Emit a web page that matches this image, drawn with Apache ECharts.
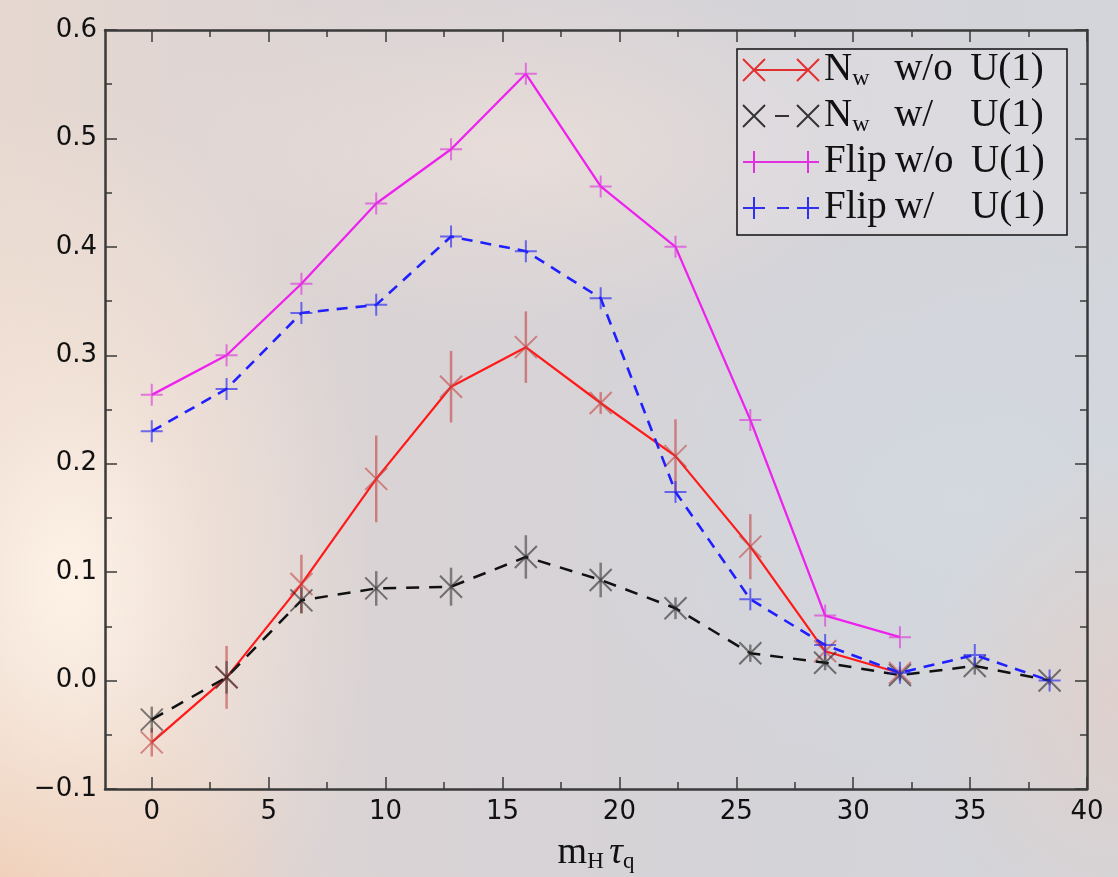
<!DOCTYPE html>
<html>
<head>
<meta charset="utf-8">
<script src="https://cdn.jsdelivr.net/npm/echarts@6/dist/echarts.min.js"></script>
<style>
  html, body { margin: 0; padding: 0; width: 1118px; height: 877px; overflow: hidden; }
  body {
    background:
      radial-gradient(ellipse 300px 480px at 70px 580px, rgba(255,243,232,0.95) 0%, rgba(250,232,218,0.55) 45%, rgba(250,232,218,0) 100%),
      radial-gradient(ellipse 320px 220px at 0px 877px, rgba(236,196,168,0.9) 0%, rgba(236,196,168,0) 100%),
      radial-gradient(ellipse 380px 180px at 520px 150px, rgba(245,228,218,0.55) 0%, rgba(245,228,218,0) 100%),
      radial-gradient(ellipse 200px 260px at 1118px 700px, rgba(230,205,195,0.6) 0%, rgba(230,205,195,0) 100%),
      radial-gradient(ellipse 400px 300px at 950px 500px, rgba(210,218,225,0.7) 0%, rgba(210,218,225,0) 100%),
      linear-gradient(to right, #e6d8d0 0%, #d9d3d5 35%, #d4d3d8 70%, #d3d5da 100%);
  }
  #chart { width: 1118px; height: 877px; }
</style>
</head>
<body>
<div id="chart"></div>
<script>
// ---- data ----
const xVals = [0, 3.2, 6.4, 9.6, 12.8, 16, 19.2, 22.4, 25.6, 28.8, 32, 35.2, 38.4];
const nwNoU1    = [-0.057, 0.003, 0.089, 0.186, 0.271, 0.3075, 0.256, 0.207, 0.1235, 0.027, 0.007];
const nwNoU1Err = [0.013, 0.029, 0.027, 0.040, 0.033, 0.033, 0.010, 0.034, 0.030, 0.008, 0.006];
const nwU1      = [-0.036, 0.003, 0.074, 0.085, 0.0866, 0.114, 0.0928, 0.0667, 0.0252, 0.0165, 0.005, 0.0135, 0.0];
const nwU1Err   = [0.012, 0.015, 0.012, 0.016, 0.0175, 0.020, 0.016, 0.010, 0.008, 0.007, 0.005, 0.008, 0.004];
const flipNoU1  = [0.2635, 0.300, 0.366, 0.440, 0.490, 0.5596, 0.4557, 0.400, 0.2404, 0.0599, 0.040];
const flipU1    = [0.230, 0.269, 0.339, 0.3465, 0.4095, 0.396, 0.3527, 0.174, 0.075, 0.0328, 0.0073, 0.0236, 0.0];
const xMajorTicks = [0, 5, 10, 15, 20, 25, 30, 35, 40];
const xMinorTicks = [2.5, 7.5, 12.5, 17.5, 22.5, 27.5, 32.5, 37.5];
const seriesNames = ['Nw w/o U(1)', 'Nw w/ U(1)', 'Flip w/o U(1)', 'Flip w/ U(1)'];

// ---- helpers ----
const pts = (arr) => arr.map((v, i) => [xVals[i], v]);
const errPts = (arr, err) => arr.map((v, i) => [xVals[i], v, err[i]]);
const X_SYM = 'path://M0,0L20,20M0,20L20,0';
const P_SYM = 'path://M0,10L20,10M10,0L10,20';

function errorSeries(arr, err, color, z) {
  return {
    type: 'custom', xAxisIndex: 0, yAxisIndex: 0, z: z, silent: true,
    data: errPts(arr, err),
    renderItem: function (params, api) {
      const x = api.value(0), y = api.value(1), e = api.value(2);
      const a = api.coord([x, y - e]);
      const b = api.coord([x, y + e]);
      return { type: 'line', shape: { x1: a[0], y1: a[1], x2: b[0], y2: b[1] },
               style: { stroke: color, lineWidth: 2.5 } };
    }
  };
}

function lineSeries(name, arr, lineColor, dash, width, sym, symColor, z) {
  return {
    name: name, type: 'line', xAxisIndex: 0, yAxisIndex: 0, z: z,
    data: pts(arr),
    symbol: sym, symbolSize: 22, showSymbol: true,
    lineStyle: { color: lineColor, width: width, type: dash || 'solid' },
    itemStyle: { color: 'rgba(0,0,0,0)', borderColor: symColor, borderWidth: 2 },
    emphasis: { disabled: true },
    animation: false
  };
}

const serif = 'Liberation Serif, DejaVu Serif, serif';
const sans = 'DejaVu Sans, sans-serif';
const axisLineStyle = { color: '#3a3a3a', width: 2.5 };

function xAxisDef(position, values, len, showLine, showLabel, extra) {
  return Object.assign({
    type: 'value', position: position, min: -2, max: 40,
    axisLine: { show: showLine, onZero: false, lineStyle: axisLineStyle },
    axisTick: { show: true, inside: true, length: len, customValues: values,
                lineStyle: { color: '#3a3a3a', width: 1.5 } },
    axisLabel: { show: showLabel, customValues: values, fontFamily: sans, fontSize: 26,
                 color: '#111', margin: 10 },
    splitLine: { show: false }
  }, extra || {});
}

function yAxisDef(position, showLabel) {
  return {
    type: 'value', position: position, min: -0.1, max: 0.6, interval: 0.1,
    axisLine: { show: true, onZero: false, lineStyle: axisLineStyle },
    axisTick: { show: true, inside: true, length: 12, lineStyle: { color: '#3a3a3a', width: 1.5 } },
    minorTick: { show: true, splitNumber: 2, length: 7, lineStyle: { color: '#3a3a3a', width: 1.5 } },
    axisLabel: { show: showLabel, fontFamily: sans, fontSize: 26, color: '#111', margin: 8,
                 formatter: (v) => (v < -1e-9 ? '\u2212' : '') + Math.abs(v).toFixed(1) },
    splitLine: { show: false }
  };
}

const legendIcons = {
  'Nw w/o U(1)':  'path://M0,0L22,22M0,22L22,0M11,11L65,11M54,0L76,22M54,22L76,0',
  'Nw w/ U(1)':   'path://M0,0L22,22M0,22L22,0M32,11L46,11M54,0L76,22M54,22L76,0',
  'Flip w/o U(1)':'path://M0,11L76,11M11,0L11,22M65,0L65,22',
  'Flip w/ U(1)': 'path://M0,11L22,11M11,0L11,22M34,11L46,11M54,11L76,11M65,0L65,22'
};
const legendColors = {
  'Nw w/o U(1)': '#e23030', 'Nw w/ U(1)': '#333333',
  'Flip w/o U(1)': '#e030e0', 'Flip w/ U(1)': '#3030f0'
};
const legendText = {
  'Nw w/o U(1)':  '{n|N}{s|w}{m|w/o}{u|U(1)}',
  'Nw w/ U(1)':   '{n|N}{s|w}{m|w/}{u|U(1)}',
  'Flip w/o U(1)':'{p|Flip}{m|w/o}{u|U(1)}',
  'Flip w/ U(1)': '{p|Flip}{m|w/}{u|U(1)}'
};

const chart = echarts.init(document.getElementById('chart'), null, { renderer: 'canvas' });
chart.setOption({
  backgroundColor: 'transparent',
  animation: false,
  grid: { left: 105, right: 31, top: 30, bottom: 88, containLabel: false, outerBoundsMode: 'none' },
  xAxis: [
    xAxisDef('bottom', xMajorTicks, 12, true, true, {
      name: '{m|m}{h|H}{sp| }{t|\u03c4}{h|q}', nameLocation: 'middle', nameGap: 44,
      nameTextStyle: { color: '#111', fontFamily: serif, fontSize: 38, lineHeight: 40,
        rich: {
          m: { fontFamily: serif, fontSize: 38, color: '#111', lineHeight: 40 },
          h: { fontFamily: serif, fontSize: 23, color: '#111', lineHeight: 14, verticalAlign: 'bottom' },
          sp: { fontFamily: serif, fontSize: 22, lineHeight: 40 },
          t: { fontFamily: serif, fontStyle: 'italic', fontSize: 38, color: '#111', lineHeight: 40 }
        } }
    }),
    xAxisDef('bottom', xMinorTicks, 7, false, false),
    xAxisDef('top', xMajorTicks, 12, true, false),
    xAxisDef('top', xMinorTicks, 7, false, false)
  ],
  yAxis: [ yAxisDef('left', true), yAxisDef('right', false) ],
  legend: {
    orient: 'vertical', left: 737, top: 49,
    padding: [0, 8, 6, 5], itemGap: 4, itemWidth: 76, itemHeight: 22, itemTextGap: 7,
    backgroundColor: 'rgba(226,223,228,0.55)', borderColor: '#111', borderWidth: 1.5, borderRadius: 0,
    selectedMode: false, symbolKeepAspect: true,
    data: seriesNames.map(n => ({
      name: n, icon: legendIcons[n],
      itemStyle: { color: 'rgba(0,0,0,0)', borderColor: legendColors[n], borderWidth: 2, opacity: 1 }
    })),
    formatter: (name) => legendText[name],
    textStyle: {
      color: '#111', fontFamily: serif, fontSize: 39, lineHeight: 42,
      rich: {
        n: { fontFamily: serif, fontSize: 39, color: '#111', lineHeight: 42 },
        s: { fontFamily: serif, fontSize: 24, color: '#111', lineHeight: 14, width: 42, verticalAlign: 'bottom' },
        p: { fontFamily: serif, fontSize: 39, color: '#111', lineHeight: 42, width: 71 },
        m: { fontFamily: serif, fontSize: 39, color: '#111', lineHeight: 42, width: 76 },
        u: { fontFamily: serif, fontSize: 39, color: '#111', lineHeight: 42, width: 88 }
      }
    }
  },
  series: [
    errorSeries(nwNoU1, nwNoU1Err, 'rgba(195,70,70,0.6)', 2),
    lineSeries(seriesNames[0], nwNoU1, '#ff1a1a', null, 2.2, X_SYM, 'rgba(195,70,70,0.6)', 3),
    errorSeries(nwU1, nwU1Err, 'rgba(50,50,50,0.55)', 4),
    lineSeries(seriesNames[1], nwU1, '#111111', [13, 10], 2.5, X_SYM, 'rgba(40,40,40,0.6)', 5),
    lineSeries(seriesNames[2], flipNoU1, '#ee22ee', null, 2.3, P_SYM, 'rgba(220,60,220,0.65)', 6),
    lineSeries(seriesNames[3], flipU1, '#2020ff', [11, 8], 2.6, P_SYM, 'rgba(40,40,240,0.65)', 7)
  ]
});
</script>
</body>
</html>
